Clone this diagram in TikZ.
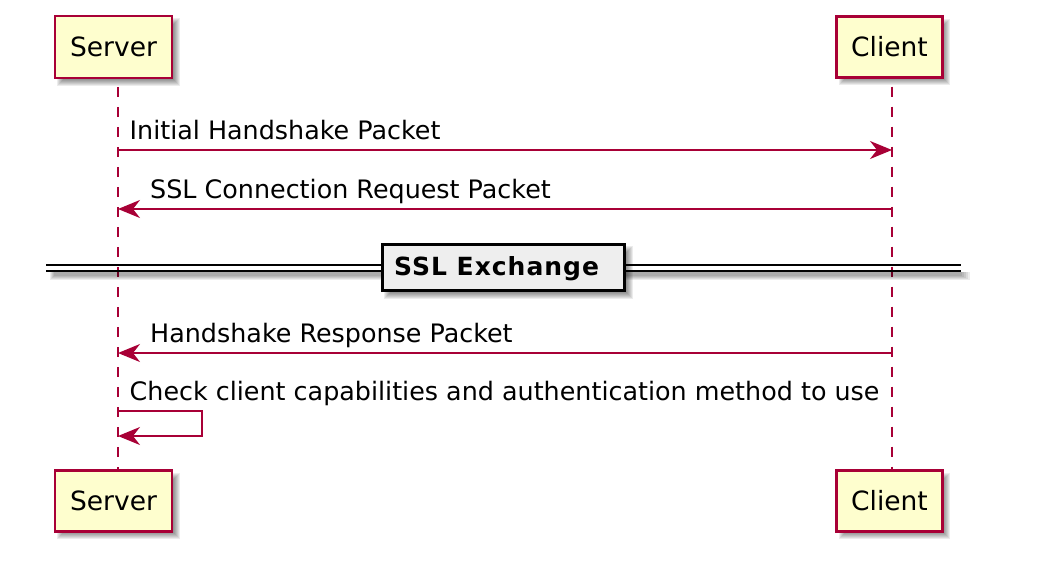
\documentclass[tikz,border=0pt]{standalone}
\usepackage{fontspec}
\setmainfont{DejaVu Sans}
\usetikzlibrary{arrows.meta}
\definecolor{pborder}{HTML}{A80036}
\definecolor{pfill}{HTML}{FEFECE}
\definecolor{divfill}{HTML}{EEEEEE}
\newcommand\mkshadow[4]{%
  \foreach \k in {-4,...,3}{%
    \fill[black,opacity=0.075] (#1+5-\k,#2+5-\k) rectangle (#3+5+\k,#4+5+\k);
  }}
\tikzset{
  part/.style={draw=pborder, fill=pfill, line width=2.4pt, inner sep=0pt,
    font=\fontsize{26.5}{30}\selectfont},
  lifeline/.style={draw=pborder, line width=2pt, dash pattern=on 10pt off 10pt, dash phase=12pt},
  msg/.style={draw=pborder, line width=1.8pt, -{Stealth[length=22pt,width=18pt,inset=7pt]}},
  lbl/.style={font=\fontsize{25.4}{30}\selectfont, anchor=base west, inner sep=0pt},
  divline/.style={draw=black, line width=2.2pt},
  divbox/.style={draw=black, fill=divfill, line width=3pt, inner sep=0pt, minimum width=242pt, minimum height=46pt},
  divtxt/.style={font=\bfseries\fontsize{25}{30}\selectfont\addfontfeatures{LetterSpace=4}, anchor=base west, inner sep=0pt},
}
\begin{document}
\begin{tikzpicture}[x=1pt,y=-1pt]
\useasboundingbox (0,0) rectangle (1048,574);
% shadows of participants
\mkshadow{55}{16}{172}{78}
\mkshadow{837}{17}{942}{77}
\mkshadow{55}{471}{172}{531}
\mkshadow{837}{471}{942}{531}
% participants
\node[part, minimum width=117pt, minimum height=62pt] (sTop) at (113.5,47) {\raisebox{-1.2pt}{Server}};
\node[part, minimum width=106pt, minimum height=61pt] (cTop) at (889.5,47) {\raisebox{-1.2pt}{Client}};
\node[part, minimum width=117pt, minimum height=61pt] (sBot) at (113.5,501) {\raisebox{-1.2pt}{Server}};
\node[part, minimum width=106pt, minimum height=61pt] (cBot) at (889.5,501) {\raisebox{-1.2pt}{Client}};
% lifelines
\draw[lifeline] ([xshift=4.5pt]sTop.south) -- ([xshift=4.5pt]sBot.north);
\draw[lifeline] ([xshift=2.5pt]cTop.south) -- ([xshift=2.5pt]cBot.north);
% message anchor points on lifelines
\coordinate (s1) at (118,150); \coordinate (c1) at (892,150);
\coordinate (s2) at (118,209); \coordinate (c2) at (892,209);
\coordinate (s3) at (118,353); \coordinate (c3) at (892,353);
\coordinate (s4) at (118,411); \coordinate (s5) at (118,436);
% messages
\draw[msg] (s1) -- (c1);
\node[lbl] (m1) at (129.5,139.3) {Initial Handshake Packet};
\draw[msg] (c2) -- (s2);
\node[lbl] (m2) at (150,198.3) {SSL Connection Request Packet};
% divider
\foreach \k in {0,...,4}{\fill[black,opacity=0.08] (50+\k,272) rectangle (970-2*\k,280-\k);}
\coordinate (dl1) at (46,265); \coordinate (dr1) at (961,265);
\coordinate (dl2) at (46,271); \coordinate (dr2) at (961,271);
\draw[divline] (dl1) -- (dr1);
\draw[divline] (dl2) -- (dr2);
\mkshadow{382}{244}{625}{291}
\node[divbox] (dbox) at (503.5,267.5) {};
\node[divtxt] (dtxt) at (394,275) {SSL Exchange};
% after exchange
\draw[msg] (c3) -- (s3);
\node[lbl] (m3) at (150,342.3) {Handshake Response Packet};
\node[lbl] (m4) at (129.5,400.3) {Check client capabilities and authentication method to use};
\draw[msg] (s4) -- ++(84,0) -- ++(0,25) -- (s5);
\end{tikzpicture}
\end{document}
